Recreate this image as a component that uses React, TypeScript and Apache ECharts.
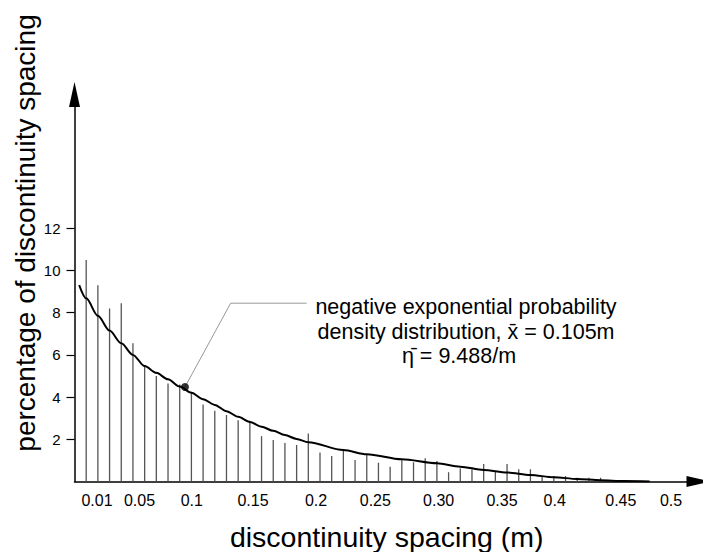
import React, { useEffect, useRef } from "react";
import * as echarts from "echarts";

// Bar positions (discontinuity spacing, m) and percentages
const spacing = [
  0.01, 0.02, 0.03, 0.04, 0.05, 0.06, 0.07, 0.08, 0.09, 0.1,
  0.11, 0.12, 0.13, 0.14, 0.15, 0.16, 0.17, 0.18, 0.19, 0.2,
  0.21, 0.22, 0.23, 0.24, 0.25, 0.26, 0.27, 0.28, 0.29, 0.3,
  0.31, 0.32, 0.33, 0.34, 0.35, 0.36, 0.37, 0.38, 0.39, 0.4,
  0.41, 0.42, 0.43, 0.44, 0.45,
];
const percentage = [
  10.5, 9.3, 8.2, 8.45, 6.55, 5.5, 5.0, 4.65, 4.6, 4.25,
  3.65, 3.35, 3.15, 2.9, 2.88, 2.15, 1.97, 1.83, 1.73, 2.28,
  1.37, 1.21, 1.53, 1.02, 1.29, 0.89, 0.7, 1.07, 0.91, 1.1,
  0.97, 0.44, 0.62, 0.58, 0.83, 0.49, 0.83, 0.58, 0.58, 0.26,
  0.26, 0.26, 0.18, 0.18, 0.18,
];

// Negative exponential density curve
const curveX = [
  0.004, 0.01, 0.02, 0.03, 0.04, 0.05, 0.06, 0.07, 0.08, 0.09, 0.1,
  0.11, 0.12, 0.13, 0.14, 0.15, 0.16, 0.17, 0.18, 0.19, 0.2,
  0.23, 0.25, 0.28, 0.31, 0.33, 0.35, 0.37, 0.39, 0.41, 0.43, 0.45, 0.47, 0.492,
];
const curveY = [
  9.31, 8.68, 7.85, 7.15, 6.55, 6.0, 5.47, 5.15, 4.84, 4.5, 4.21,
  3.9, 3.63, 3.33, 3.07, 2.82, 2.6, 2.4, 2.2, 2.02, 1.86,
  1.49, 1.29, 1.05, 0.86, 0.7, 0.55, 0.43, 0.31, 0.2, 0.12, 0.06, 0.02, 0,
];

// Annotation point on the curve and its leader line (data coordinates)
const annotPoint = [0.0945, 4.48];
const leaderX = [0.0945, 0.1336, 0.1986];
const leaderY = [4.48, 8.45, 8.45];

// Tick labels
const xTickLabels = ["0.01", "0.05", "0.1", "0.15", "0.2", "0.25", "0.30", "0.35", "0.4", "0.45", "0.5"];
const xTickAt = [0.0192, 0.0556, 0.1003, 0.1527, 0.2066, 0.2573, 0.3115, 0.3657, 0.4108, 0.4673, 0.5103];
const yTickMin = 2;
const yTickMax = 12;
const yTickStep = 2;

const yTitle = "percentage of discontinuity spacing";
const xTitle = "discontinuity spacing (m)";
const annotationLines = [
  "negative exponential probability",
  "density distribution, x\u0304 = 0.105m",
  "\u03B7\u0304 = 9.488/m",
];

const FONT = "'Liberation Sans', Arial, Helvetica, sans-serif";

// chart frame (pixels)
const GL = 74.5;
const GR = 4;
const GT = 94.5;
const GB = 70.5;
const Y_MAX = 18.34;

export default function App() {
  const ref = useRef<HTMLDivElement>(null);

  useEffect(() => {
    if (!ref.current) return;
    const chart = echarts.init(ref.current, undefined, { renderer: "svg" });

    const plotH = 552 - GT - GB;
    const pxPerUnit = plotH / Y_MAX;
    const zeroY = 552 - GB;

    const textStyle = {
      fontFamily: FONT,
      fontSize: 21.5,
      fill: "#000",
      textAlign: "center",
      textVerticalAlign: "middle",
    };

    const option: any = {
      animation: false,
      backgroundColor: "#ffffff",
      grid: [
        { left: GL, right: GR, top: GT, bottom: GB, containLabel: false, outerBoundsMode: "none" },
        {
          left: GL,
          right: GR,
          top: zeroY - yTickMax * pxPerUnit,
          bottom: 552 - (zeroY - yTickMin * pxPerUnit),
          containLabel: false,
          outerBoundsMode: "none",
        },
      ],
      xAxis: [
        {
          type: "value",
          gridIndex: 0,
          min: 0,
          max: 0.5342,
          name: xTitle,
          nameLocation: "middle",
          nameGap: 41,
          nameTextStyle: { fontFamily: FONT, fontSize: 28.5, color: "#000" },
          axisLine: {
            show: true,
            symbol: ["none", "triangle"],
            symbolSize: [11, 25],
            lineStyle: { color: "#000", width: 1.5 },
          },
          axisTick: { show: false },
          splitLine: { show: false },
          axisLabel: {
            customValues: xTickAt,
            margin: 11,
            fontFamily: FONT,
            fontSize: 16,
            color: "#000",
            formatter: (v: number) => {
              let best = 0;
              xTickAt.forEach((p, i) => {
                if (Math.abs(p - v) < Math.abs(xTickAt[best] - v)) best = i;
              });
              return xTickLabels[best];
            },
          },
        },
        { type: "value", gridIndex: 1, min: 0, max: 1, show: false },
      ],
      yAxis: [
        {
          type: "value",
          gridIndex: 0,
          min: 0,
          max: Y_MAX,
          axisLine: {
            show: true,
            symbol: ["none", "triangle"],
            symbolSize: [11, 25],
            lineStyle: { color: "#000", width: 1.5 },
          },
          axisTick: { show: false },
          axisLabel: { show: false },
          splitLine: { show: false },
        },
        {
          type: "value",
          gridIndex: 1,
          min: yTickMin,
          max: yTickMax,
          interval: yTickStep,
          axisLine: { show: false },
          axisTick: { show: true, length: 8, lineStyle: { color: "#000", width: 1.2 } },
          splitLine: { show: false },
          axisLabel: {
            margin: 14,
            fontFamily: FONT,
            fontSize: 15,
            color: "#000",
          },
        },
      ],
      series: [
        {
          type: "bar",
          data: spacing.map((s, i) => [s, percentage[i]]),
          barWidth: 1.3,
          itemStyle: { color: "#555" },
          silent: true,
        },
        {
          type: "line",
          data: curveX.map((x, i) => [x, curveY[i]]),
          showSymbol: false,
          symbol: "none",
          smooth: 0.3,
          smoothMonotone: "x",
          lineStyle: { color: "#000", width: 2 },
          z: 5,
        },
        {
          type: "line",
          data: leaderX.map((x, i) => [x, leaderY[i]]),
          symbol: "none",
          lineStyle: { color: "#999", width: 1 },
          z: 4,
        },
        {
          type: "scatter",
          data: [annotPoint],
          symbolSize: 8,
          itemStyle: { color: "#000" },
          z: 6,
        },
        {
          // empty series bound to the tick grid so its axes are laid out
          type: "line",
          xAxisIndex: 1,
          yAxisIndex: 1,
          data: [],
          silent: true,
        },
      ],
      graphic: [
        {
          type: "text",
          x: 25,
          y: 233,
          rotation: Math.PI / 2,
          style: { ...textStyle, fontSize: 28, text: yTitle },
        },
        { type: "text", x: 466, y: 306.7, style: { ...textStyle, text: annotationLines[0] } },
        { type: "text", x: 466, y: 331.7, style: { ...textStyle, text: annotationLines[1] } },
        { type: "text", x: 459, y: 356, style: { ...textStyle, text: annotationLines[2] } },
      ],
    };

    chart.setOption(option);
    return () => chart.dispose();
  }, []);

  return (
    <div
      ref={ref}
      style={{ position: "fixed", left: 0, top: 0, width: 703, height: 552, background: "#fff" }}
    />
  );
}
